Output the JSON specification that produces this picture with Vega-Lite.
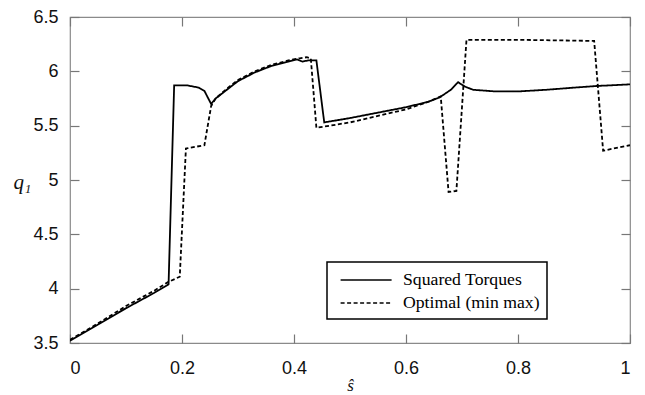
{
  "$schema": "https://vega.github.io/schema/vega-lite/v6.json",
  "width": 560,
  "height": 326,
  "autosize": {"type": "none"},
  "padding": {"left": 70, "top": 17, "right": 15, "bottom": 52},
  "background": "white",
  "config": {
    "view": {"stroke": "#8a8a8a", "strokeWidth": 1.2},
    "axis": {
      "domain": false,
      "grid": false,
      "tickColor": "#777",
      "tickSize": -9,
      "tickWidth": 1.2,
      "labelFont": "Liberation Sans",
      "labelFontSize": 18,
      "labelColor": "#111",
      "titleFont": "Liberation Serif",
      "titleFontStyle": "italic",
      "titleFontWeight": "normal",
      "titleFontSize": 17,
      "titleColor": "#111"
    },
    "legend": {
      "orient": "none",
      "legendX": 257,
      "legendY": 245,
      "strokeColor": "black",
      "strokeWidth": 1.5,
      "fillColor": "white",
      "padding": 7,
      "rowPadding": 3,
      "symbolType": "M-0.44,0H4.66",
      "symbolSize": 400,
      "symbolStrokeWidth": 1.6,
      "symbolStrokeColor": "black",
      "labelFont": "Liberation Serif",
      "labelFontSize": 17.7,
      "labelColor": "black",
      "labelOffset": 47,
      "labelLimit": 300
    }
  },
  "data": {
    "values": [
      {"series": "Squared Torques", "s": 0.0, "q": 3.52},
      {"series": "Squared Torques", "s": 0.05, "q": 3.67},
      {"series": "Squared Torques", "s": 0.1, "q": 3.82},
      {"series": "Squared Torques", "s": 0.15, "q": 3.96},
      {"series": "Squared Torques", "s": 0.176, "q": 4.04},
      {"series": "Squared Torques", "s": 0.186, "q": 5.87},
      {"series": "Squared Torques", "s": 0.21, "q": 5.87},
      {"series": "Squared Torques", "s": 0.23, "q": 5.85},
      {"series": "Squared Torques", "s": 0.24, "q": 5.82},
      {"series": "Squared Torques", "s": 0.252, "q": 5.7},
      {"series": "Squared Torques", "s": 0.26, "q": 5.75},
      {"series": "Squared Torques", "s": 0.28, "q": 5.83},
      {"series": "Squared Torques", "s": 0.3, "q": 5.91},
      {"series": "Squared Torques", "s": 0.33, "q": 5.99},
      {"series": "Squared Torques", "s": 0.36, "q": 6.05},
      {"series": "Squared Torques", "s": 0.39, "q": 6.09},
      {"series": "Squared Torques", "s": 0.405, "q": 6.11},
      {"series": "Squared Torques", "s": 0.415, "q": 6.09},
      {"series": "Squared Torques", "s": 0.425, "q": 6.1},
      {"series": "Squared Torques", "s": 0.44, "q": 6.1},
      {"series": "Squared Torques", "s": 0.454, "q": 5.53},
      {"series": "Squared Torques", "s": 0.5, "q": 5.57},
      {"series": "Squared Torques", "s": 0.55, "q": 5.62},
      {"series": "Squared Torques", "s": 0.6, "q": 5.67},
      {"series": "Squared Torques", "s": 0.64, "q": 5.72},
      {"series": "Squared Torques", "s": 0.66, "q": 5.76},
      {"series": "Squared Torques", "s": 0.68, "q": 5.83},
      {"series": "Squared Torques", "s": 0.693, "q": 5.9},
      {"series": "Squared Torques", "s": 0.705, "q": 5.86},
      {"series": "Squared Torques", "s": 0.72, "q": 5.83},
      {"series": "Squared Torques", "s": 0.76, "q": 5.815},
      {"series": "Squared Torques", "s": 0.8, "q": 5.815},
      {"series": "Squared Torques", "s": 0.85, "q": 5.83},
      {"series": "Squared Torques", "s": 0.9, "q": 5.85},
      {"series": "Squared Torques", "s": 0.94, "q": 5.865},
      {"series": "Squared Torques", "s": 1.0, "q": 5.88},
      {"series": "Optimal (min max)", "s": 0.0, "q": 3.53},
      {"series": "Optimal (min max)", "s": 0.05, "q": 3.68},
      {"series": "Optimal (min max)", "s": 0.1, "q": 3.84},
      {"series": "Optimal (min max)", "s": 0.15, "q": 3.98},
      {"series": "Optimal (min max)", "s": 0.175, "q": 4.06},
      {"series": "Optimal (min max)", "s": 0.196, "q": 4.11},
      {"series": "Optimal (min max)", "s": 0.207, "q": 5.29},
      {"series": "Optimal (min max)", "s": 0.24, "q": 5.32},
      {"series": "Optimal (min max)", "s": 0.252, "q": 5.68},
      {"series": "Optimal (min max)", "s": 0.26, "q": 5.75},
      {"series": "Optimal (min max)", "s": 0.28, "q": 5.84},
      {"series": "Optimal (min max)", "s": 0.3, "q": 5.92},
      {"series": "Optimal (min max)", "s": 0.33, "q": 6.0},
      {"series": "Optimal (min max)", "s": 0.36, "q": 6.06},
      {"series": "Optimal (min max)", "s": 0.39, "q": 6.1},
      {"series": "Optimal (min max)", "s": 0.41, "q": 6.12},
      {"series": "Optimal (min max)", "s": 0.423, "q": 6.13},
      {"series": "Optimal (min max)", "s": 0.43, "q": 6.12},
      {"series": "Optimal (min max)", "s": 0.44, "q": 5.48},
      {"series": "Optimal (min max)", "s": 0.5, "q": 5.53},
      {"series": "Optimal (min max)", "s": 0.55, "q": 5.59},
      {"series": "Optimal (min max)", "s": 0.6, "q": 5.65},
      {"series": "Optimal (min max)", "s": 0.64, "q": 5.72},
      {"series": "Optimal (min max)", "s": 0.662, "q": 5.77},
      {"series": "Optimal (min max)", "s": 0.676, "q": 4.89},
      {"series": "Optimal (min max)", "s": 0.69, "q": 4.9},
      {"series": "Optimal (min max)", "s": 0.708, "q": 6.29},
      {"series": "Optimal (min max)", "s": 0.8, "q": 6.29},
      {"series": "Optimal (min max)", "s": 0.936, "q": 6.28},
      {"series": "Optimal (min max)", "s": 0.952, "q": 5.27},
      {"series": "Optimal (min max)", "s": 1.0, "q": 5.32}
    ]
  },
  "resolve": {"axis": {"x": "independent", "y": "independent"}},
  "layer": [
    {
      "mark": {"type": "line", "color": "black", "strokeWidth": 1.8, "clip": true},
      "encoding": {
        "x": {
          "field": "s", "type": "quantitative",
          "scale": {"domain": [0, 1], "nice": false},
          "axis": {"orient": "bottom", "values": [0, 0.2, 0.4, 0.6, 0.8, 1], "format": "~g", "labelPadding": 25, "title": "ŝ", "titleY": 42, "titleBaseline": "middle"}
        },
        "y": {
          "field": "q", "type": "quantitative",
          "scale": {"domain": [3.5, 6.5], "nice": false, "zero": false},
          "axis": {"orient": "left", "values": [3.5, 4, 4.5, 5, 5.5, 6, 6.5], "format": "~g", "labelPadding": 21, "title": "q₁", "titleFontSize": 21, "titleAngle": 0, "titleX": -48, "titleY": 165, "titleBaseline": "middle", "titleAlign": "center"}
        },
        "strokeDash": {
          "field": "series", "type": "nominal",
          "scale": {"domain": ["Squared Torques", "Optimal (min max)"], "range": [[1, 0], [4, 2.5]]},
          "legend": {"title": null}
        }
      }
    },
    {
      "mark": {"type": "point", "opacity": 0},
      "encoding": {
        "x": {"field": "s", "type": "quantitative", "axis": {"orient": "top", "values": [0, 0.2, 0.4, 0.6, 0.8, 1], "labels": false, "title": null}},
        "y": {"field": "q", "type": "quantitative", "axis": {"orient": "right", "values": [3.5, 4, 4.5, 5, 5.5, 6, 6.5], "labels": false, "title": null}}
      }
    }
  ]
}
